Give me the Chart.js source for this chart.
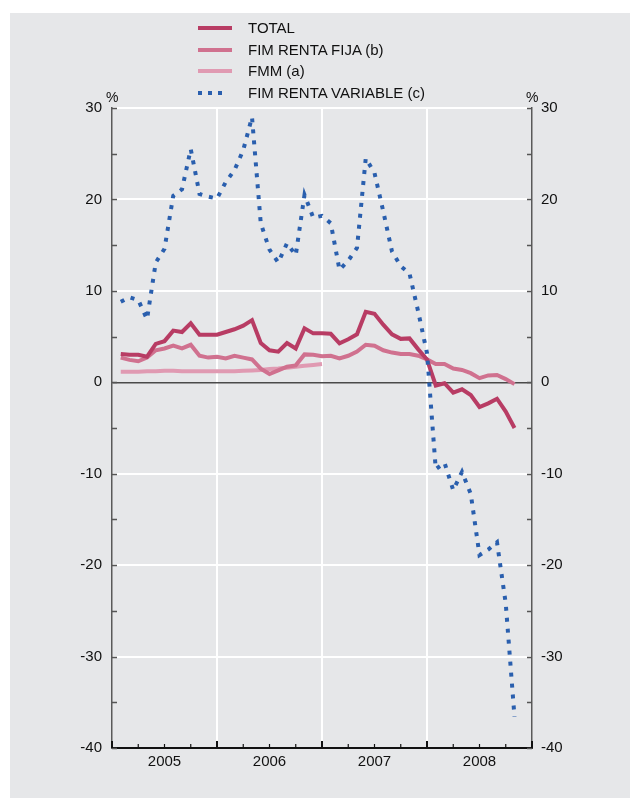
<!DOCTYPE html>
<html>
<head>
<meta charset="utf-8">
<script src="https://cdn.jsdelivr.net/npm/chart.js@4.4.1/dist/chart.umd.min.js"></script>
<style>
  html, body { margin: 0; padding: 0; background: #ffffff; }
  body { width: 630px; height: 798px; position: relative; overflow: hidden; font-family: "Liberation Sans", Arial, sans-serif; }
  #panel { position: absolute; left: 10px; top: 13px; width: 620px; height: 785px; background: #e6e7e9; }
  #wrap { position: absolute; left: 0; top: 0; width: 630px; height: 798px; }
  .lg { position: absolute; font-size: 15px; color: #111; line-height: 18px; white-space: nowrap; }
  .sw { position: absolute; height: 4px; }
  .pct { position: absolute; font-size: 14px; color: #111; line-height: 16px; }
</style>
</head>
<body>
<div id="panel"></div>
<div id="wrap"><canvas id="c" width="630" height="798"></canvas></div>
<div id="legend"></div>
<div class="pct" style="left:106px; top:89px;">%</div>
<div class="pct" style="left:526px; top:89px;">%</div>
<script>
// ---- data (monthly, Jan 2005 - Oct 2008) ----
const months = [
  '2005-01','2005-02','2005-03','2005-04','2005-05','2005-06','2005-07','2005-08','2005-09','2005-10','2005-11','2005-12',
  '2006-01','2006-02','2006-03','2006-04','2006-05','2006-06','2006-07','2006-08','2006-09','2006-10','2006-11','2006-12',
  '2007-01','2007-02','2007-03','2007-04','2007-05','2007-06','2007-07','2007-08','2007-09','2007-10','2007-11','2007-12',
  '2008-01','2008-02','2008-03','2008-04','2008-05','2008-06','2008-07','2008-08','2008-09','2008-10'
];
const yearLabels = ['2005', '2006', '2007', '2008'];
const total = [3.1, 3.0, 3.0, 2.8, 4.2, 4.5, 5.65, 5.5, 6.45, 5.2, 5.2, 5.2,
  5.5, 5.8, 6.2, 6.8, 4.3, 3.5, 3.35, 4.3, 3.7, 5.9, 5.35, 5.35,
  5.3, 4.27, 4.7, 5.25, 7.7, 7.5, 6.3, 5.25, 4.75, 4.8, 3.6, 2.5,
  -0.35, -0.1, -1.13, -0.77, -1.4, -2.7, -2.3, -1.8, -3.2, -5.0];
const rentaFija = [2.7, 2.45, 2.3, 2.7, 3.5, 3.7, 4.0, 3.7, 4.1, 2.9, 2.7, 2.8,
  2.6, 2.9, 2.7, 2.5, 1.5, 0.9, 1.3, 1.7, 1.85, 3.05, 3.0, 2.85,
  2.9, 2.6, 2.9, 3.35, 4.1, 4.0, 3.5, 3.25, 3.1, 3.1, 2.9, 2.5,
  2.0, 2.0, 1.5, 1.35, 1.0, 0.45, 0.75, 0.8, 0.35, -0.2];
const fmm = [1.15, 1.15, 1.15, 1.2, 1.2, 1.25, 1.25, 1.2, 1.2, 1.2, 1.2, 1.2,
  1.2, 1.2, 1.25, 1.3, 1.35, 1.45, 1.5, 1.6, 1.7, 1.8, 1.9, 2.0];
const rentaVariable = [8.8, 9.3, 9.0, 6.9, 13.1, 14.6, 20.4, 21.1, 25.5, 20.6, 20.3, 20.1,
  21.9, 23.2, 25.4, 29.0, 17.4, 14.5, 13.1, 15.2, 13.9, 20.5, 18.0, 18.2,
  17.4, 12.3, 13.3, 14.7, 24.5, 22.9, 18.7, 14.3, 12.7, 11.9, 7.7, 3.2,
  -9.5, -8.8, -11.8, -9.8, -12.2, -18.9, -18.3, -17.5, -24.2, -36.6];
const seriesNames = ['TOTAL', 'FIM RENTA FIJA (b)', 'FMM (a)', 'FIM RENTA VARIABLE (c)'];

// ---- styles ----
const colors = ['#b83c64', '#d0718f', '#e09ab2', '#2a5fae'];
const FONT = '"Liberation Sans", Arial, sans-serif';

function toPoints(values) {
  return values.map((v, i) => ({ x: months.indexOf(months[i]) + 1, y: v }));
}

// legend (HTML text)
const legend = document.getElementById('legend');
const rowCenters = [28, 49.5, 71, 92.5];
seriesNames.forEach((name, i) => {
  const sw = document.createElement('div');
  sw.className = 'sw';
  sw.style.left = '198px';
  sw.style.top = (rowCenters[i] - 2) + 'px';
  if (i === 3) {
    sw.style.width = '26px';
    sw.style.background = 'repeating-linear-gradient(to right, ' + colors[3] + ' 0 4px, transparent 4px 10px)';
  } else {
    sw.style.width = '34px';
    sw.style.background = colors[i];
  }
  legend.appendChild(sw);
  const t = document.createElement('div');
  t.className = 'lg';
  t.style.left = '248px';
  t.style.top = (rowCenters[i] - 9) + 'px';
  t.textContent = name;
  legend.appendChild(t);
});

const tickMarks = {
  id: 'tickMarks',
  afterDraw(chart) {
    const { ctx, chartArea, scales } = chart;
    ctx.save();
    ctx.strokeStyle = '#555';
    ctx.lineWidth = 1.5;
    for (let v = -40; v <= 30; v += 5) {
      const y = Math.round(scales.y.getPixelForValue(v)) + 0.5;
      ctx.beginPath();
      ctx.moveTo(chartArea.left, y); ctx.lineTo(chartArea.left + 5, y);
      ctx.moveTo(chartArea.right, y); ctx.lineTo(chartArea.right - 5, y);
      ctx.stroke();
    }
    ctx.strokeStyle = '#111';
    for (let v = 0; v <= 48; v += 3) {
      const x = scales.x.getPixelForValue(v);
      const len = (v % 12 === 0) ? 7 : 4;
      ctx.lineWidth = (v % 12 === 0) ? 2 : 1.2;
      ctx.beginPath();
      ctx.moveTo(x, chartArea.bottom); ctx.lineTo(x, chartArea.bottom - len);
      ctx.stroke();
    }
    ctx.restore();
  }
};

new Chart(document.getElementById('c'), {
  type: 'line',
  data: {
    datasets: [
      { label: seriesNames[0], data: toPoints(total), borderColor: colors[0], borderWidth: 4, order: 1 },
      { label: seriesNames[1], data: toPoints(rentaFija), borderColor: colors[1], borderWidth: 4, order: 2 },
      { label: seriesNames[2], data: toPoints(fmm), borderColor: colors[2], borderWidth: 4, order: 3 },
      { label: seriesNames[3], data: toPoints(rentaVariable), borderColor: colors[3], borderWidth: 4,
        borderDash: [4, 7], borderCapStyle: 'butt', borderJoinStyle: 'miter', order: 0 }
    ]
  },
  options: {
    responsive: false,
    animation: false,
    events: [],
    elements: { point: { radius: 0 }, line: { tension: 0, fill: false, borderJoinStyle: 'miter' } },
    layout: { padding: { top: 108, left: 0, right: 0, bottom: 0 } },
    plugins: { legend: { display: false }, tooltip: { enabled: false } },
    scales: {
      x: {
        type: 'linear', min: 0, max: 48,
        afterFit(s) { s.height = 50; },
        border: { display: true, color: '#111', width: 2 },
        grid: {
          drawTicks: false,
          color: (c) => (c.tick && c.tick.value % 12 === 0 && c.tick.value > 0 && c.tick.value < 48) ? '#ffffff' : 'rgba(0,0,0,0)',
          lineWidth: 2
        },
        ticks: {
          stepSize: 3, autoSkip: false, maxRotation: 0, padding: 5,
          color: '#111', font: { family: FONT, size: 15 },
          callback: (v) => (v % 12 === 6) ? yearLabels[(v - 6) / 12] : ''
        }
      },
      y: {
        position: 'left', min: -40, max: 30,
        afterFit(s) { s.width = 112; },
        border: { display: true, color: '#5a5a5a', width: 1.5 },
        grid: {
          drawTicks: false,
          color: (c) => {
            const v = c.tick ? c.tick.value : 1;
            if (v === 0) return '#4a4a4a';
            if (v % 10 === 0 && v !== -40) return '#ffffff';
            return 'rgba(0,0,0,0)';
          },
          lineWidth: (c) => (c.tick && c.tick.value === 0) ? 1.5 : 2
        },
        ticks: {
          stepSize: 5, autoSkip: false, padding: 10,
          color: '#111', font: { family: FONT, size: 15 },
          callback: (v) => (v % 10 === 0) ? String(v) : ''
        }
      },
      y2: {
        position: 'right', min: -40, max: 30,
        afterFit(s) { s.width = 98; },
        border: { display: true, color: '#5a5a5a', width: 1.5 },
        grid: { display: false, drawTicks: false },
        ticks: {
          stepSize: 5, autoSkip: false, padding: 9,
          color: '#111', font: { family: FONT, size: 15 },
          callback: (v) => (v % 10 === 0) ? String(v) : ''
        }
      }
    }
  },
  plugins: [tickMarks]
});
</script>
</body>
</html>
